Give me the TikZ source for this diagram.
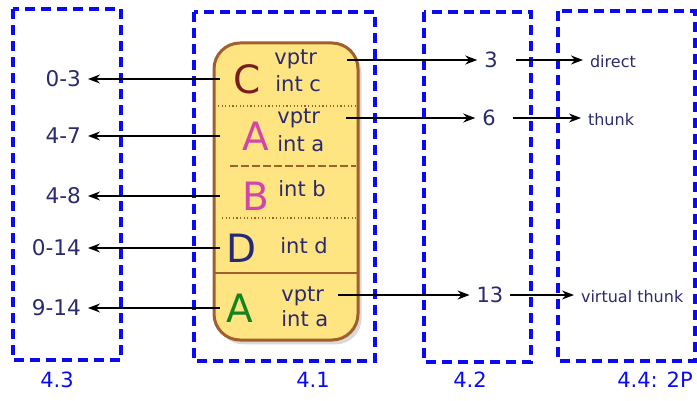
\documentclass[tikz,border=0pt]{standalone}
\usepackage{fontspec}
\setmainfont{DejaVu Sans}
\usetikzlibrary{arrows.meta, calc, shadows}
\definecolor{ink}{RGB}{42,42,110}
\definecolor{groupblue}{RGB}{10,10,245}
\definecolor{objfill}{RGB}{255,228,130}
\definecolor{objedge}{RGB}{160,95,45}
\definecolor{clsC}{RGB}{120,30,30}
\definecolor{clsA}{RGB}{210,70,170}
\definecolor{clsD}{RGB}{40,40,120}
\definecolor{clsAv}{RGB}{20,130,30}

\begin{document}
\begin{tikzpicture}[
  x=0.5pt, y=-0.5pt,
  group/.style={draw=groupblue, line width=2pt, dash pattern=on 5pt off 3pt},
  grouplabel/.style={text=groupblue, font=\fontsize{10.5}{12}\selectfont},
  objbox/.style={draw=objedge, line width=1.5pt, fill=objfill, rounded corners=13pt,
                 minimum width=72pt, minimum height=148.5pt, inner sep=0pt,
                 drop shadow={shadow xshift=1.8pt, shadow yshift=-2.2pt, opacity=0.3}},
  letter/.style={font=\fontsize{19.5}{22}\selectfont, inner sep=1pt},
  field/.style={text=ink, font=\fontsize{10.5}{12}\selectfont, anchor=base west, inner sep=0pt},
  offset/.style={text=ink, font=\fontsize{10.8}{13}\selectfont, anchor=east},
  slot/.style={text=ink, font=\fontsize{10.5}{12}\selectfont},
  target/.style={text=ink, font=\fontsize{8}{10}\selectfont, anchor=west},
  divdot/.style={draw=objedge, line width=0.6pt, dash pattern=on 0.6pt off 1.2pt},
  divdash/.style={draw=objedge, line width=0.6pt, dash pattern=on 4pt off 1.5pt},
  divline/.style={draw=objedge, line width=0.7pt},
  arrow/.style={-{Stealth[length=6pt, width=4.5pt]}, line width=0.7pt},
]
\useasboundingbox (0,0) rectangle (697,401);

\draw[group] (13,9) rectangle (121,360);
\draw[group] (194,12) rectangle (375,361);
\draw[group] (424,12) rectangle (531,362);
\draw[group] (558,11) rectangle (695,361);
\node[grouplabel] (g43) at (57,380) {4.3};
\node[grouplabel] (g41) at (313,380) {4.1};
\node[grouplabel] (g42) at (470,380) {4.2};
\node[grouplabel] (g44) at (655,380) {4.4: 2P};

\node[objbox] (obj) at (286,191.5) {};
\draw[divdot] (218,106) -- (356,106);
\draw[divdash] (230,166) -- (356,166);
\draw[divdot] (222,218) -- (356,218);
\draw[divline] (214,273) -- (358,273);

\node[letter, text=clsC] (lC) at (247,79) {C};
\node[letter, text=clsA] (lA) at (256,136) {A};
\node[letter, text=clsA] (lB) at (256,196) {B};
\node[letter, text=clsD] (lD) at (242,248) {D};
\node[letter, text=clsAv] (lAv) at (240,308) {A};

\node[field] (vC) at (274,65) {vptr};
\node[field] (iC) at (275,92) {int c};
\node[field] (vA) at (277,124) {vptr};
\node[field] (iA) at (277,152) {int a};
\node[field] (iB) at (278,197) {int b};
\node[field] (iD) at (280,254) {int d};
\node[field] (vAv) at (281,301) {vptr};
\node[field] (iAv) at (281,327) {int a};

\node[offset] (r03) at (88,79) {0-3};
\node[offset] (r47) at (88,136) {4-7};
\node[offset] (r48) at (88,196) {4-8};
\node[offset] (r014) at (88,248) {0-14};
\node[offset] (r914) at (88,308) {9-14};

\node[slot] (n3) at (491,60) {3};
\node[slot] (n6) at (489,118) {6};
\node[slot] (n13) at (490,295) {13};

\node[target] (tD) at (583,62) {direct};
\node[target] (tT) at (581,120) {thunk};
\node[target] (tV) at (574,297) {virtual thunk};

\draw[arrow] ($(lC -| obj.west)+(3.5pt,0)$) -- (r03.east);
\draw[arrow] ($(lA -| obj.west)+(3.5pt,0)$) -- (r47.east);
\draw[arrow] ($(lB -| obj.west)+(3.5pt,0)$) -- (r48.east);
\draw[arrow] ($(lD -| obj.west)+(3.5pt,0)$) -- (r014.east);
\draw[arrow] ($(lAv -| obj.west)+(3.5pt,0)$) -- (r914.east);
\draw[arrow] ($(n3.west -| vC.east)+(15pt,0)$) -- (n3.west);
\draw[arrow] ($(n6.west -| vA.east)+(12.7pt,0)$) -- (n6.west);
\draw[arrow] ($(n13.west -| vAv.east)+(7pt,0)$) -- (n13.west);
\draw[arrow] ($(n3.east)+(5.5pt,0)$) -- (n3.east -| tD.west);
\draw[arrow] ($(n6.east)+(5pt,0)$) -- (n6.east -| tT.west);
\draw[arrow] (n13.east) -- (n13.east -| tV.west);
\end{tikzpicture}
\end{document}
